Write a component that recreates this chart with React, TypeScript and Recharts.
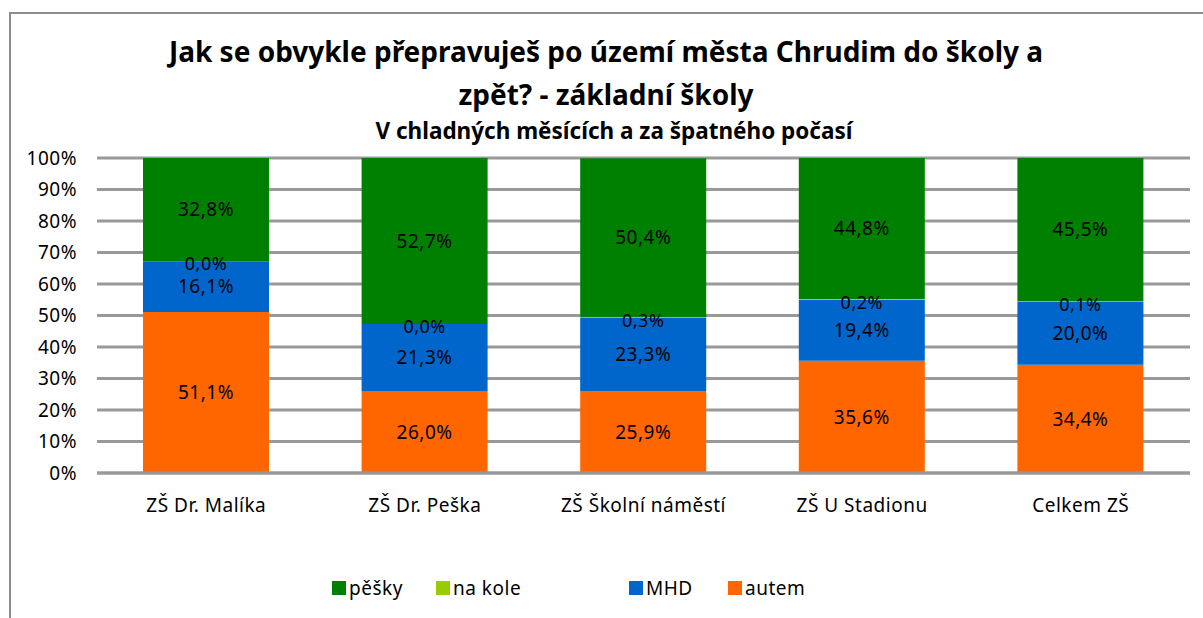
import React from 'react';
import {
  Bar,
  BarChart,
  CartesianGrid,
  LabelList,
  XAxis,
  YAxis,
} from 'recharts';

const schools = ['ZŠ Dr. Malíka', 'ZŠ Dr. Peška', 'ZŠ Školní náměstí', 'ZŠ U Stadionu', 'Celkem ZŠ'];
const autem = [51.1, 26.0, 25.9, 35.6, 34.4];
const mhd = [16.1, 21.3, 23.3, 19.4, 20.0];
const naKole = [0.0, 0.0, 0.3, 0.2, 0.1];
const pesky = [32.8, 52.7, 50.4, 44.8, 45.5];
const yTicks = [0, 10, 20, 30, 40, 50, 60, 70, 80, 90, 100];

const series = [
  { key: 'autem', name: 'autem', color: '#ff6600' },
  { key: 'mhd', name: 'MHD', color: '#0066cc' },
  { key: 'naKole', name: 'na kole', color: '#99cc00' },
  { key: 'pesky', name: 'pěšky', color: '#008000' },
];

const data = schools.map((s, i) => ({
  name: s,
  autem: autem[i],
  mhd: mhd[i],
  naKole: naKole[i],
  pesky: pesky[i],
}));

const font = '"Noto Sans", sans-serif';
const fmt = (v: any) => Number(v).toFixed(1).replace('.', ',') + '%';
const labelStyle = { fill: '#000', fontSize: 19, fontFamily: font, letterSpacing: 0.5 };

// legend entries as Excel places them (pěšky, na kole, MHD, autem)
const legendLeft = [332, 436, 629, 728];

// the "na kole" slice is almost zero high, so its label sits on the top edge of MHD
const NaKoleLabel = (props: any) => {
  const { x, y, width, value } = props;
  return (
    <text
      x={x + width / 2}
      y={y + 2}
      textAnchor="middle"
      dominantBaseline="central"
      style={{ ...labelStyle, fontSize: 18 } as any}
    >
      {fmt(value)}
    </text>
  );
};

const App = () => {
  return (
    <div style={{ position: 'absolute', left: 0, top: 0, width: 1203, height: 618, background: '#fff' }}>
      <div
        style={{
          position: 'absolute',
          left: 9,
          top: 12,
          width: 1194,
          height: 606,
          borderTop: '2px solid #8c8c8c',
          borderLeft: '2px solid #8c8c8c',
        }}
      />
      <div
        style={{
          position: 'absolute',
          left: 0,
          width: 1212,
          top: 30,
          textAlign: 'center',
          fontFamily: font,
          fontWeight: 'bold',
          fontSize: 28,
          lineHeight: '43px',
        }}
      >
        Jak se obvykle přepravuješ po území města Chrudim do školy a
        <br />
        zpět? - základní školy
      </div>
      <div
        style={{
          position: 'absolute',
          left: 0,
          width: 1228,
          top: 115,
          textAlign: 'center',
          fontFamily: font,
          fontWeight: 'bold',
          fontSize: 22.5,
        }}
      >
        V chladných měsících a za špatného počasí
      </div>
      <BarChart
        width={1203}
        height={618}
        data={data}
        barSize={126}
        margin={{ top: 158, right: 13, left: 17, bottom: 105 }}
        style={{ position: 'absolute', left: 0, top: 0 }}
      >
        <CartesianGrid vertical={false} stroke="#999" strokeWidth={3} />
        <XAxis
          dataKey="name"
          tickLine={false}
          axisLine={{ stroke: '#999', strokeWidth: 3 }}
          tickSize={0}
          tickMargin={26}
          height={40}
          tick={labelStyle}
        />
        <YAxis
          domain={[0, 100]}
          ticks={yTicks}
          tickFormatter={(v) => v + '%'}
          width={80}
          tickLine={false}
          axisLine={false}
          tickSize={0}
          tickMargin={20}
          tick={labelStyle}
        />
        {series.map((s) => (
          <Bar key={s.key} dataKey={s.key} name={s.name} stackId="a" fill={s.color} isAnimationActive={false}>
            {s.key !== 'naKole' && (
              <LabelList dataKey={s.key} position="center" formatter={fmt} style={labelStyle} />
            )}
            {s.key === 'mhd' && <LabelList dataKey="naKole" content={<NaKoleLabel />} />}
          </Bar>
        ))}
      </BarChart>
      {[...series].reverse().map((s, i) => (
        <div
          key={s.key}
          style={{
            position: 'absolute',
            left: legendLeft[i],
            top: 575,
            display: 'flex',
            alignItems: 'center',
            fontFamily: font,
            fontSize: 19,
            letterSpacing: 0.5,
          }}
        >
          <span style={{ width: 14, height: 14, background: s.color, display: 'inline-block', marginRight: 3 }} />
          <span>{s.name}</span>
        </div>
      ))}
    </div>
  );
};

export default App;
